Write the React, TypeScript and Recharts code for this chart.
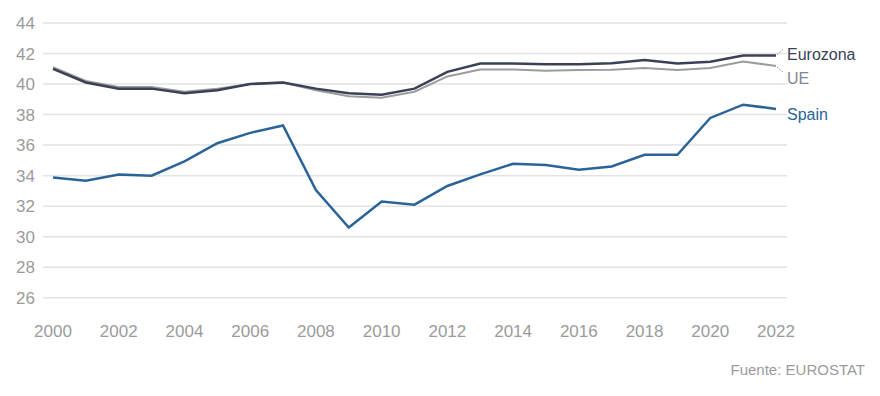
import { LineChart, Line, XAxis, YAxis, CartesianGrid } from "recharts"

// ─── Datos (EUROSTAT) ─────────────────────────────────────────────────────────
const YEARS = [
  2000, 2001, 2002, 2003, 2004, 2005, 2006, 2007, 2008, 2009, 2010, 2011,
  2012, 2013, 2014, 2015, 2016, 2017, 2018, 2019, 2020, 2021, 2022,
]
const EUROZONA = [
  41.0, 40.1, 39.7, 39.7, 39.4, 39.6, 40.0, 40.1, 39.7, 39.4, 39.3, 39.7,
  40.8, 41.35, 41.35, 41.3, 41.3, 41.37, 41.57, 41.35, 41.46, 41.87, 41.87,
]
const UE = [
  41.1, 40.2, 39.8, 39.8, 39.5, 39.7, 40.0, 40.1, 39.6, 39.2, 39.1, 39.5,
  40.5, 40.96, 40.96, 40.87, 40.92, 40.94, 41.05, 40.92, 41.05, 41.48, 41.18,
]
const SPAIN = [
  33.87, 33.67, 34.08, 34.0, 34.94, 36.12, 36.8, 37.29, 33.05, 30.6, 32.3, 32.1,
  33.32, 34.08, 34.78, 34.7, 34.39, 34.6, 35.37, 35.37, 37.78, 38.65, 38.37,
]
const X_TICKS = [2000, 2002, 2004, 2006, 2008, 2010, 2012, 2014, 2016, 2018, 2020, 2022]
const Y_TICKS = [26, 28, 30, 32, 34, 36, 38, 40, 42, 44]

// ─── Estilos ──────────────────────────────────────────────────────────────────
const FONT = "'Liberation Sans', Arial, sans-serif"
const C_EURO = "#3a4156"
const C_UE = "#9a9d9d"
const C_SPAIN = "#2a6397"
const C_TICK = "#9b9b9b"
const C_GRID = "#e3e3e3"

const data = YEARS.map((year, i) => ({
  year,
  euro: EUROZONA[i],
  ue: UE[i],
  spain: SPAIN[i],
}))

// etiqueta al final de cada serie
function endLabel(name: string, color: string, dy: number, connector: number) {
  return (props: any) => {
    const { x, y, index } = props
    if (index !== YEARS.length - 1) return null
    return (
      <g>
        {connector !== 0 && (
          <line
            x1={x + 1}
            y1={y + connector}
            x2={x + 7}
            y2={y + connector * 6}
            stroke="#8a8f99"
            strokeWidth={1}
            strokeDasharray="1.5 1.5"
          />
        )}
        <text x={x + 11} y={y + dy} fill={color} fontSize={16} fontFamily={FONT}>
          {name}
        </text>
      </g>
    )
  }
}

export default function App() {
  return (
    <div style={{ position: "absolute", left: 0, top: 0, width: 880, height: 396, background: "#fff" }}>
      <LineChart
        width={880}
        height={396}
        data={data}
        margin={{ top: 23, right: 93, bottom: 53, left: 0 }}
      >
        <CartesianGrid
          vertical={false}
          horizontalValues={Y_TICKS}
          stroke={C_GRID}
          strokeWidth={1.5}
        />
        <XAxis
          dataKey="year"
          type="number"
          domain={[2000, 2022]}
          ticks={X_TICKS}
          padding={{ left: 10, right: 11 }}
          axisLine={false}
          tickLine={false}
          tickSize={0}
          tickMargin={12}
          height={30}
          tick={{ fontSize: 17, fill: C_TICK, fontFamily: FONT }}
        />
        <YAxis
          domain={[25, 44]}
          ticks={Y_TICKS}
          axisLine={false}
          tickLine={false}
          tickSize={0}
          tickMargin={8}
          width={43}
          tick={{ fontSize: 17, fill: C_TICK, fontFamily: FONT }}
        />
        <Line
          dataKey="ue"
          stroke={C_UE}
          strokeWidth={2}
          dot={false}
          isAnimationActive={false}
          label={endLabel("UE", "#7f8898", 18, 1)}
        />
        <Line
          dataKey="euro"
          stroke={C_EURO}
          strokeWidth={2.5}
          dot={false}
          isAnimationActive={false}
          label={endLabel("Eurozona", C_EURO, 4, -1)}
        />
        <Line
          dataKey="spain"
          stroke={C_SPAIN}
          strokeWidth={2.5}
          dot={false}
          isAnimationActive={false}
          label={endLabel("Spain", C_SPAIN, 11, 0)}
        />
      </LineChart>
      <div
        style={{
          position: "absolute",
          right: 15,
          top: 361,
          fontFamily: FONT,
          fontSize: 15,
          color: C_TICK,
        }}
      >
        Fuente: EUROSTAT
      </div>
    </div>
  )
}
